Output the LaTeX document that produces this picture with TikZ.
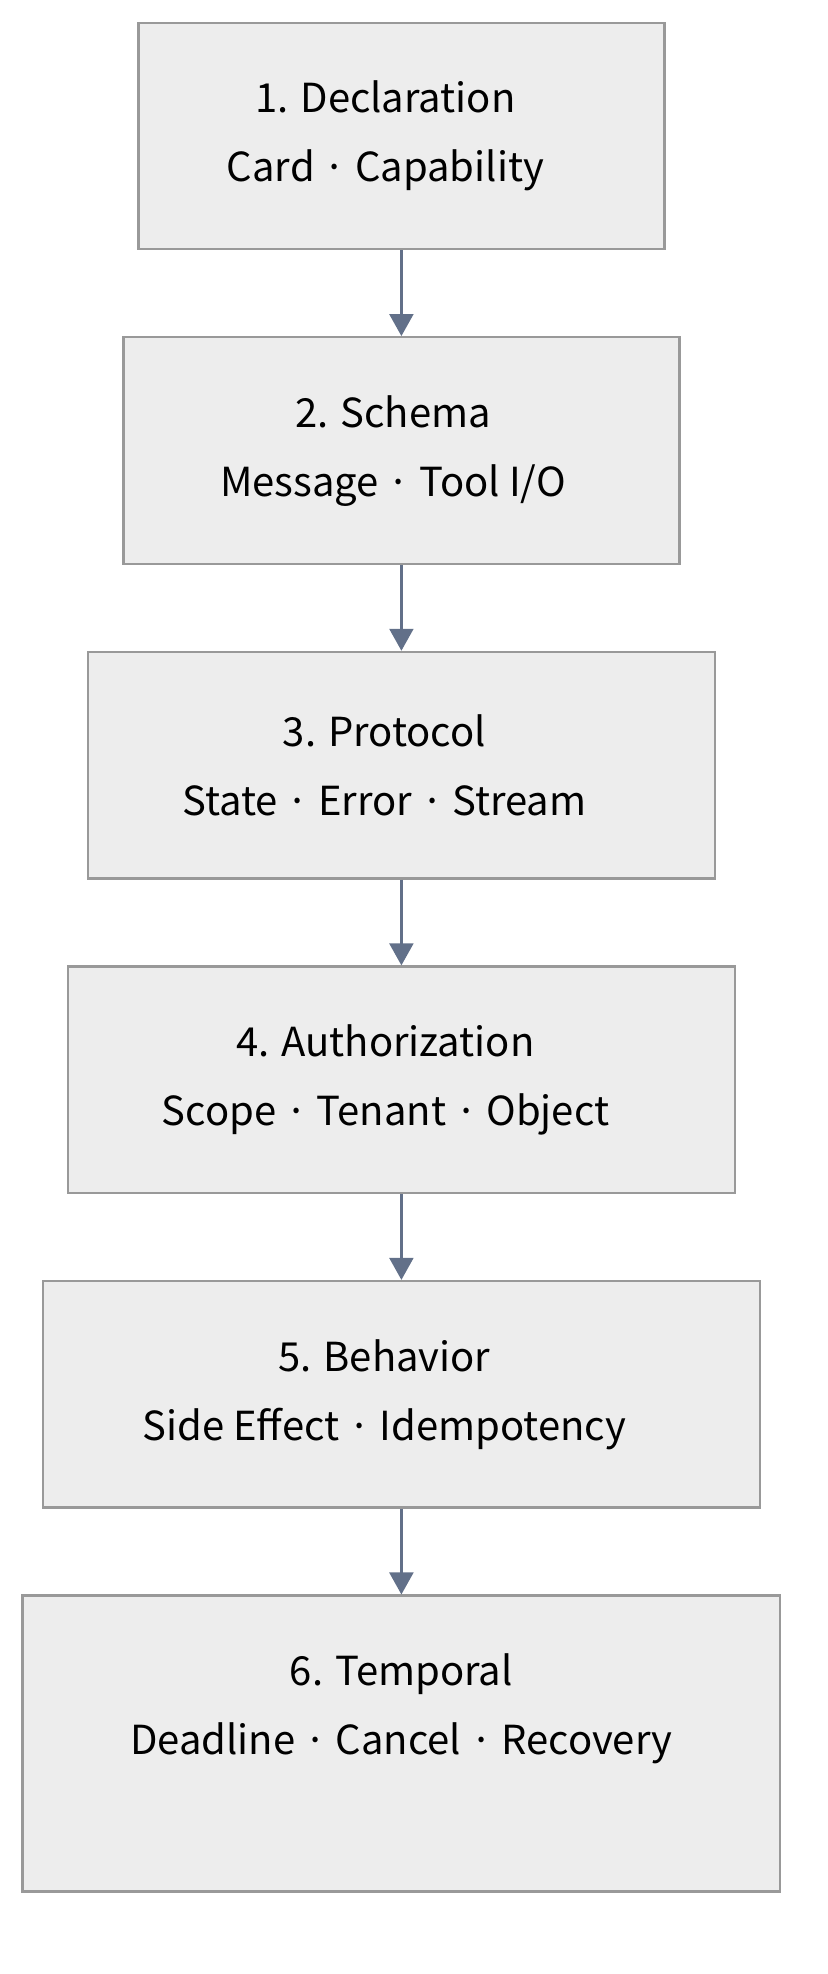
\documentclass[tikz,border=0pt]{standalone}
\usepackage{fontspec}
\setmainfont{Noto Sans CJK KR}
\usetikzlibrary{arrows.meta}
\definecolor{boxfill}{HTML}{EDEDED}
\definecolor{boxline}{HTML}{999999}
\definecolor{arrowc}{HTML}{627089}
\tikzset{
  stage/.style={draw=boxline, fill=boxfill, line width=1.2pt, rectangle, inner sep=0pt},
  lbl/.style={align=center, font=\fontsize{20}{34.5}\selectfont, inner sep=0pt, anchor=center},
  conn/.style={draw=arrowc, line width=1.1pt, -{Triangle[width=12pt,length=11pt]}},
}
\begin{document}
\begin{tikzpicture}[x=0.5pt,y=-0.5pt]
\useasboundingbox (0,0) rectangle (828,1974);
\node[stage, minimum width=263pt, minimum height=113.25pt] (b1) at (401.4,136) {};
\node[stage, minimum width=278pt, minimum height=113.25pt] (b2) at (401.4,450.5) {};
\node[stage, minimum width=313.3pt, minimum height=113.25pt] (b3) at (401.4,765.2) {};
\node[stage, minimum width=333.5pt, minimum height=113.25pt] (b4) at (401.4,1079.8) {};
\node[stage, minimum width=358.6pt, minimum height=113.25pt] (b5) at (401.4,1394.3) {};
\node[stage, minimum width=378.75pt, minimum height=147.85pt] (b6) at (401.4,1743.5) {};
\node[lbl] (t1) at ([xshift=-8pt,yshift=-57.3pt]b1.north) {1. Declaration\\Card · Capability};
\node[lbl] (t2) at ([xshift=-4.2pt,yshift=-57.3pt]b2.north) {2. Schema\\Message · Tool I/O};
\node[lbl] (t3) at ([xshift=-8.5pt,yshift=-57.3pt]b3.north) {3. Protocol\\State · Error · Stream};
\node[lbl] (t4) at ([xshift=-8pt,yshift=-57.3pt]b4.north) {4. Authorization\\Scope · Tenant · Object};
\node[lbl] (t5) at ([xshift=-8.5pt,yshift=-57.3pt]b5.north) {5. Behavior\\Side Effect · Idempotency};
\node[lbl] (t6) at ([yshift=-57.3pt]b6.north) {6. Temporal\\Deadline · Cancel · Recovery};
\draw[conn] (b1.south) -- (b2.north);
\draw[conn] (b2.south) -- (b3.north);
\draw[conn] (b3.south) -- (b4.north);
\draw[conn] (b4.south) -- (b5.north);
\draw[conn] (b5.south) -- (b6.north);
\end{tikzpicture}
\end{document}
